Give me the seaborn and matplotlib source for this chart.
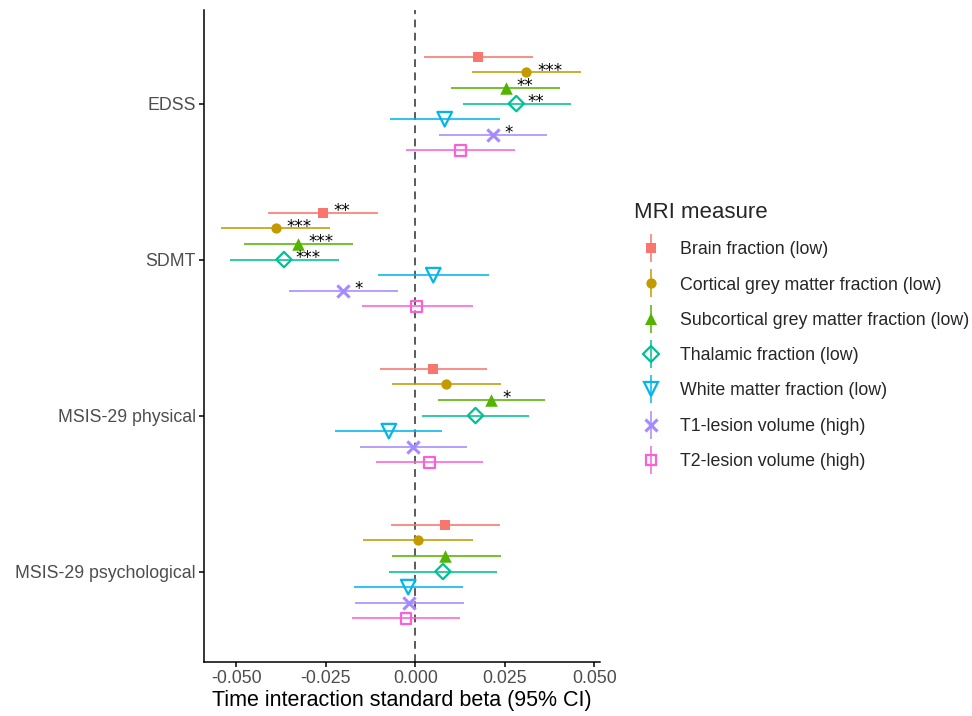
import numpy as np
import pandas as pd
import matplotlib
matplotlib.use("Agg")
import matplotlib.pyplot as plt
from matplotlib.lines import Line2D
import seaborn as sns

# data
outcomes = ["EDSS", "SDMT", "MSIS-29 physical", "MSIS-29 psychological"]
measures = ["Brain fraction (low)", "Cortical grey matter fraction (low)",
            "Subcortical grey matter fraction (low)", "Thalamic fraction (low)",
            "White matter fraction (low)", "T1-lesion volume (high)",
            "T2-lesion volume (high)"]

est = [[0.0175, 0.0310, 0.0252, 0.0282, 0.0082, 0.0217, 0.0125],
       [-0.0259, -0.0390, -0.0329, -0.0367, 0.0050, -0.0201, 0.0003],
       [0.0050, 0.0086, 0.0212, 0.0168, -0.0074, -0.0006, 0.0040],
       [0.0084, 0.0008, 0.0084, 0.0077, -0.0020, -0.0017, -0.0026]]
ci_low = [[0.0024, 0.0158, 0.0100, 0.0132, -0.0071, 0.0066, -0.0026],
          [-0.0411, -0.0543, -0.0480, -0.0517, -0.0105, -0.0352, -0.0149],
          [-0.0098, -0.0065, 0.0064, 0.0019, -0.0225, -0.0155, -0.0110],
          [-0.0067, -0.0146, -0.0066, -0.0074, -0.0172, -0.0168, -0.0176]]
ci_high = [[0.0329, 0.0464, 0.0403, 0.0434, 0.0236, 0.0369, 0.0278],
           [-0.0105, -0.0237, -0.0174, -0.0214, 0.0205, -0.0048, 0.0160],
           [0.0200, 0.0238, 0.0362, 0.0317, 0.0075, 0.0144, 0.0189],
           [0.0236, 0.0162, 0.0238, 0.0229, 0.0132, 0.0135, 0.0126]]
stars = [["", "***", "**", "**", "", "*", ""],
         ["**", "***", "***", "***", "", "*", ""],
         ["", "", "*", "", "", "", ""],
         ["", "", "", "", "", "", ""]]

colors = ["#F8766D", "#C49A00", "#53B400", "#00C094", "#00B6EB", "#A58AFF", "#FB61D7"]
markers = ["s", "o", "^", "D", "v", "x", "s"]
filled = [True, True, True, False, False, True, False]
msizes = [7.3, 7.4, 9.0, 7.8, 10.5, 8.8, 7.8]

rows = []
for i, o in enumerate(outcomes):
    for j, m in enumerate(measures):
        rows.append({"outcome": o, "measure": m, "est": est[i][j],
                     "lo": ci_low[i][j], "hi": ci_high[i][j], "sig": stars[i][j],
                     "y": i + (j - 3) * 0.1})
df = pd.DataFrame(rows)

sns.set_theme(style="ticks")
plt.rcParams["font.family"] = ["Liberation Sans", "DejaVu Sans"]

fig = plt.figure(figsize=(9.72, 7.16), dpi=100)
ax = fig.add_axes([0.21, 0.0754, 0.407, 0.9106])

ax.axvline(0, color="#5a5a5a", lw=1.4, dashes=(4, 2.8), zorder=1)

for j, m in enumerate(measures):
    sub = df[df["measure"] == m]
    ax.hlines(sub["y"], sub["lo"], sub["hi"], color=colors[j], lw=1.15, zorder=2)
    if markers[j] == "x":
        sns.scatterplot(data=sub, x="est", y="y", marker="x", color=colors[j],
                        s=msizes[j] ** 2, linewidth=2.2, legend=False, ax=ax, zorder=3)
    elif filled[j]:
        sns.scatterplot(data=sub, x="est", y="y", marker=markers[j], color=colors[j],
                        s=msizes[j] ** 2, linewidth=0, legend=False, ax=ax, zorder=3)
    else:
        sns.scatterplot(data=sub, x="est", y="y", marker=markers[j], facecolor="none",
                        edgecolor=colors[j], s=msizes[j] ** 2, linewidth=1.6,
                        legend=False, ax=ax, zorder=3)
    for _, r in sub.iterrows():
        if r["sig"]:
            ax.annotate(r["sig"], xy=(r["est"], r["y"]), xytext=(8, -2.5),
                        textcoords="offset points", ha="left", va="baseline",
                        fontsize=12, color="black", family="DejaVu Sans")

ax.set_xlim(-0.059, 0.0515)
ax.set_ylim(3.58, -0.6)
ax.set_xticks([-0.05, -0.025, 0, 0.025, 0.05])
ax.set_xticklabels(["-0.050", "-0.025", "0.000", "0.025", "0.050"])
ax.set_yticks(range(len(outcomes)))
ax.set_yticklabels(outcomes)
ax.tick_params(axis="both", labelsize=12.8, labelcolor="#4D4D4D", length=3.5,
               width=1.1, color="black", pad=2.5)
for s in ["top", "right"]:
    ax.spines[s].set_visible(False)
for s in ["left", "bottom"]:
    ax.spines[s].set_linewidth(1.1)
    ax.spines[s].set_color("black")
ax.set_xlabel("Time interaction standard beta (95% CI)", fontsize=15.5, color="black", labelpad=2)
ax.set_ylabel("")

handles = []
for j, m in enumerate(measures):
    vline = Line2D([], [], marker="|", markersize=20, markeredgewidth=1.1,
                   color=colors[j], linestyle="None")
    if markers[j] == "x":
        pt = Line2D([], [], marker="x", markersize=msizes[j], markeredgewidth=2.2,
                    color=colors[j], linestyle="None")
    elif filled[j]:
        pt = Line2D([], [], marker=markers[j], markersize=msizes[j], markeredgewidth=0,
                    color=colors[j], linestyle="None")
    else:
        pt = Line2D([], [], marker=markers[j], markersize=msizes[j], markeredgewidth=1.6,
                    markerfacecolor="none", markeredgecolor=colors[j], linestyle="None")
    handles.append((vline, pt))

leg = ax.legend(handles, measures, title="MRI measure", loc="center left",
                bbox_to_anchor=(1.087, 0.5), frameon=False, fontsize=12.8,
                title_fontsize=16, labelspacing=1.03, handlelength=1.9,
                handletextpad=0.68, borderaxespad=0, borderpad=0)
leg._legend_box.align = "left"

fig.savefig("out.png", dpi=100)
